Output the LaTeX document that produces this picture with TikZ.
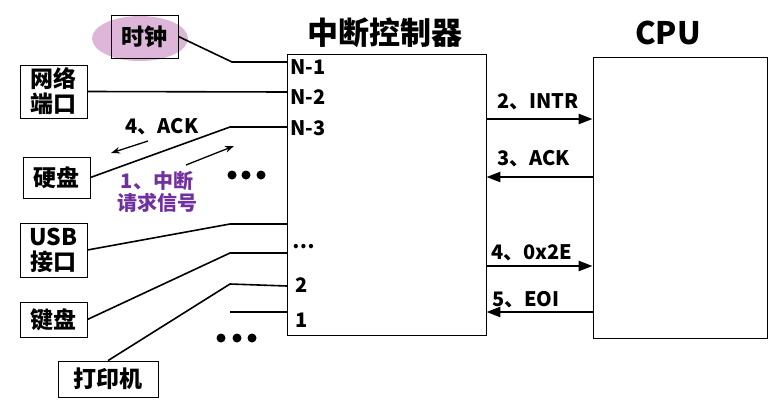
\documentclass[tikz,border=0pt]{standalone}
\usepackage{fontspec}
\setmainfont{Noto Sans CJK SC}
\usepackage{tikz}
\usetikzlibrary{positioning}
\usetikzlibrary{arrows.meta}
\definecolor{clockColor}{HTML}{DDB6DA}
\definecolor{requestColor}{HTML}{7030A0}
\tikzset{
  device/.style={draw, line width=0.8pt, inner sep=0pt, minimum width=67pt, align=center, font=\fontsize{23}{25}\selectfont\bfseries},
  unit/.style={draw, line width=0.8pt, inner sep=0pt},
  title/.style={font=\fontsize{31}{34}\selectfont\bfseries},
  pin/.style={anchor=west, inner sep=0pt, font=\fontsize{20}{24}\selectfont\bfseries},
  msg/.style={anchor=west, inner sep=0pt, font=\fontsize{20}{24}\selectfont\bfseries},
  wire/.style={line width=1.6pt},
  bus/.style={line width=2.4pt, -{Triangle[length=14pt,width=10pt]}},
  hint/.style={line width=1.3pt, -{Stealth[length=9pt,width=6.5pt]}}
}

\begin{document}
\begin{tikzpicture}[x=1pt, y=-1pt]
          \useasboundingbox (0,0) rectangle (781,407);
          \node[title] (ctrlTitle) at (385,33) {中断控制器};
          \node[title] (cpuTitle) at (668,33) {CPU};
          \node[unit, minimum width=199pt, minimum height=281pt] (ctrl) at (386.5,194.5) {};
          \node[unit, minimum width=174pt, minimum height=281pt] (cpu) at (680,197.5) {};

          % devices
          \fill[clockColor] (140,38.5) ellipse (48 and 22.5);
          \node[device, minimum height=43pt] (clock) at (144.5,36.5) {时钟};
          \node[device, minimum height=53pt] (net) at (53.5,91.5) {网络\\端口};
          \node[device, minimum height=41pt] (disk) at (56.5,177.5) {硬盘};
          \node[device, minimum height=54pt] (usb) at (53.5,250) {USB\\接口};
          \node[device, minimum height=35pt] (kbd) at (53.5,319.5) {键盘};
          \node[device, minimum width=100pt, minimum height=36pt] (printer) at (108,379) {打印机};

          % pins
          \coordinate (inN1) at (287,62);
          \coordinate (inN2) at (287,92);
          \coordinate (inN3) at (287,127);
          \coordinate (inDots) at (287,224);
          \coordinate (inKbd) at (287,253);
          \coordinate (in2) at (287,286);
          \coordinate (in1) at (287,312);
          \coordinate (free1) at (230,312);
          \node[pin] (labN1) at (290,67) {N-1};
          \node[pin] (labN2) at (290,97) {N-2};
          \node[pin] (labN3) at (290,128) {N-3};
          \node[pin] (labDots) at (292,247) {…};
          \node[pin] (lab2) at (295,285) {2};
          \node[pin] (lab1) at (295,320) {1};

          \draw[wire] (clock.east) -- (232,62) -- (inN1);
          \draw[wire] (net.east) -- (inN2);
          \draw[wire] (disk.east) -- (230,127) -- (inN3);
          \draw[wire] (usb.east) -- (230,224) -- (inDots);
          \draw[wire] (kbd.east) -- (230,253) -- (inKbd);
          \draw[wire] (printer.north) -- (230,284) -- (in2);
          \draw[wire] (free1) -- (in1);

          \fill (232,175) circle (4.5);
          \fill (246,175) circle (4.5);
          \fill (261,175) circle (4.5);
          \fill (221,338) circle (4.5);
          \fill (237,338) circle (4.5);
          \fill (252,338) circle (4.5);

          % request and ack near the disk
          \node[msg, anchor=center] (ackDisk) at (162,127) {4、ACK};
          \coordinate (ackFrom) at (148,141);
          \coordinate (ackTo) at (111,153);
          \draw[hint] (ackFrom) -- (ackTo);
          \node[align=center, text=requestColor, font=\fontsize{20}{22}\selectfont\bfseries] (req) at (157,192) {1、中断\\请求信号};
          \coordinate (reqFrom) at (186,165);
          \coordinate (reqTo) at (234,146);
          \draw[hint] (reqFrom) -- (reqTo);

          % controller and cpu
          \draw[bus] (ctrl.east |- 0,119) -- (cpu.west |- 0,119);
          \node[msg] (intr) at (497,102) {2、INTR};
          \draw[bus] (cpu.west |- 0,177) -- (ctrl.east |- 0,177);
          \node[msg] (ackCpu) at (497,159) {3、ACK};
          \draw[bus] (ctrl.east |- 0,266) -- (cpu.west |- 0,266);
          \node[msg] (vector) at (491,253) {4、0x2E};
          \draw[bus] (cpu.west |- 0,312) -- (ctrl.east |- 0,312);
          \node[msg] (eoi) at (492,300) {5、EOI};
        \end{tikzpicture}
\end{document}
